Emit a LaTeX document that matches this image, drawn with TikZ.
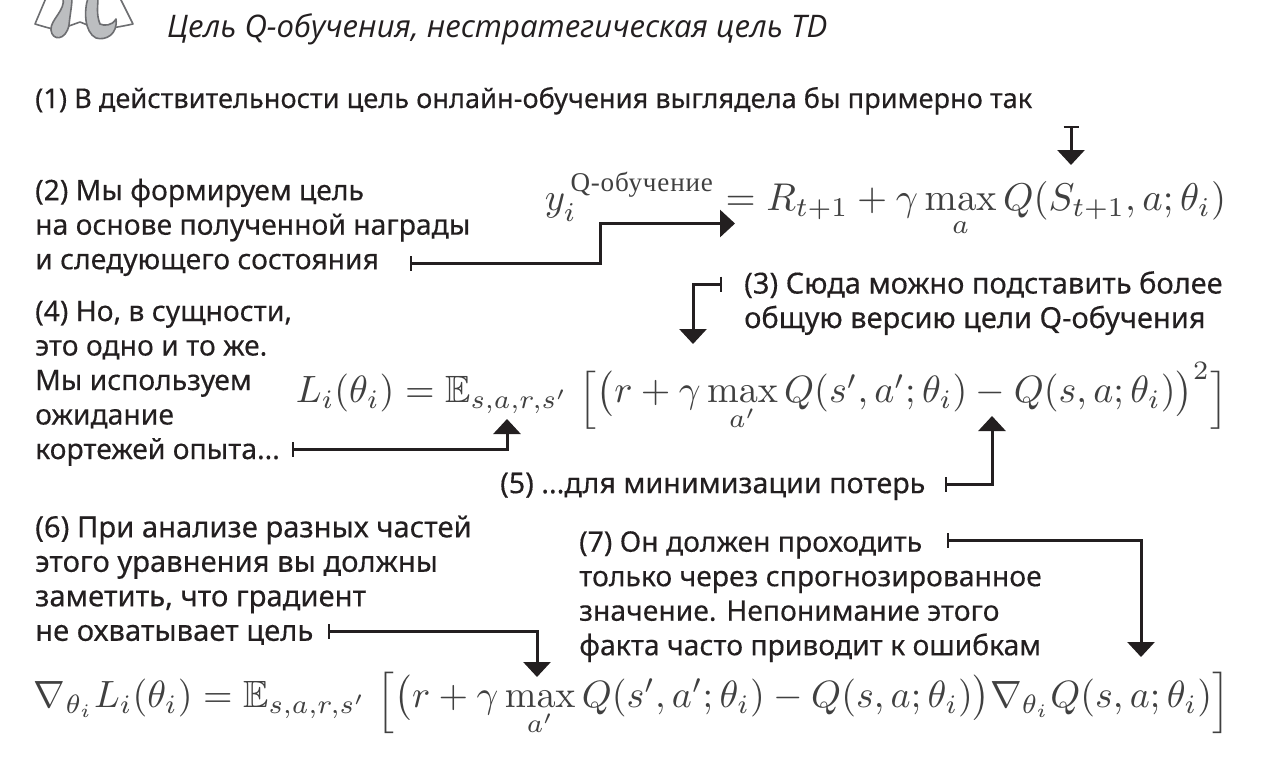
\documentclass[tikz,border=0pt]{standalone}
\usepackage{amsmath,amssymb,graphicx}
\usepackage[no-math]{fontspec}
\setmainfont{Noto Sans}[FakeBold=0.3]
\newfontfamily\titlefont{Open Sans}
\newfontfamily\serifcyr{Liberation Serif}
\usetikzlibrary{arrows.meta}
\newcommand{\qsup}{\text{\raisebox{-1.6pt}{\serifcyr\addfontfeature{LetterSpace=3}Q-обучение}}}
\newcommand{\lbrk}[2]{\mathopen{\raisebox{#2}{\scalebox{1}[#1]{$\Bigl[$}}}}
\newcommand{\rbrk}[2]{\mathclose{\raisebox{#2}{\scalebox{1}[#1]{$\Bigr]$}}}}
\definecolor{ink}{HTML}{231F20}
\definecolor{eqink}{HTML}{404040}
\definecolor{ghostline}{HTML}{6D6E71}
\definecolor{ghostfill}{HTML}{BCBEC0}
\tikzset{
 x=1pt,y=-1pt,
 note/.style={anchor=north west,inner sep=0pt,align=left,text=ink,font=\fontsize{#1}{34.5}\selectfont},
 note/.default=28.5,
 formula/.style={anchor=center,inner sep=0pt,text=eqink},
 barcallout/.style={draw=ink,line width=3pt,{Bar[width=15pt,line width=2.4pt]}-{Triangle[length=15pt,width=27pt]}},
 ghost/.style={draw=ghostline,line width=1.6pt,line join=round},
}
\begin{document}
\begin{tikzpicture}
\useasboundingbox (0,0) rectangle (1268,761);
% mascot
\begin{scope}
\clip (0,0) rectangle (1268,761);
\draw[ghost,fill=white] (46,-2) -- (35,24) .. controls (45,27) and (52,29) .. (58,30) -- (80,22) -- (100,30) .. controls (112,28) and (124,26) .. (133,24) -- (120,-2) -- cycle;
\draw[ghost,fill=ghostfill] (63,-2) .. controls (66,10) and (50,20) .. (51,30) .. controls (52,41) and (66,41) .. (69,25) .. controls (70,15) and (72,5) .. (72,-2) -- cycle;
\draw[ghost,fill=ghostfill] (88,-2) .. controls (84,10) and (84,32) .. (96,38) .. controls (106,41) and (118,34) .. (116,19) .. controls (112,26) and (104,26) .. (100,24) .. controls (96,14) and (98,5) .. (98,-2) -- cycle;
\end{scope}
% title
\node[anchor=base west,inner sep=0pt,text=ink] (title) at (167,37)
 {\resizebox{660pt}{!}{\titlefont\itshape Цель Q-обучения, нестратегическая цель TD}};
% notes
\node[note,anchor=base west] (n1) at (35,108) {\resizebox{997pt}{!}{(1) В действительности цель онлайн-обучения выглядела бы примерно так}};
\node[note=28.3] (n2) at (35,178.5) {(2) Мы формируем цель\\на основе полученной награды\\и следующего состояния};
\node[note=29] (n3) at (744,271) {(3) Сюда можно подставить более\\общую версию цели Q-обучения};
\node[note=28.3] (n4) at (35,300.5) {(4) Но, в сущности,\\это одно и то же.\\Мы используем\\ожидание\\кортежей опыта...};
\node[note=28.7] (n5) at (500,472.5) {(5) ...для минимизации потерь};
\node[note=29.2] (n6) at (35,515.5) {(6) При анализе разных частей\\этого уравнения вы должны\\заметить, что градиент\\не охватывает цель};
\node[note=28.3] (n7) at (579,531) {(7) Он должен проходить\\только через спрогнозированное\\значение. Непонимание этого\\факта часто приводит к ошибкам};
% formulas
\node[formula] (eqa) at (885.5,205) {\resizebox{681pt}{!}{$y_i^{\,\qsup} = R_{t+1}+\gamma\max\limits_{a} Q(S_{t+1},a;\theta_i)$}};
\node[formula] (eqb) at (762,397) {\resizebox{932pt}{!}{$L_i(\theta_i)=\mathbb{E}_{s,a,r,s'}\;\lbrk{0.85}{-1.4pt}\bigl(r+\gamma\max\limits_{a'}Q(s',a';\theta_i)-Q(s,a;\theta_i)\bigr)^{2}\rbrk{0.85}{-1.4pt}$}};
\node[formula] (eqc) at (632,704) {\resizebox{1196pt}{!}{$\nabla_{\theta_i}L_i(\theta_i)=\mathbb{E}_{s,a,r,s'}\;\lbrk{0.9}{-1pt}\bigl(r+\gamma\max\limits_{a'}Q(s',a';\theta_i)-Q(s,a;\theta_i)\bigr)\nabla_{\theta_i}Q(s,a;\theta_i)\rbrk{0.9}{-1pt}$}};
% connector ends
\coordinate (a1s) at (1071,126); \coordinate (a1e) at (1071,165);
\coordinate (a2s) at (410,263);  \coordinate (a2e) at (735,223.5); \coordinate (a2m) at (600,223.5);
\coordinate (a3s) at (722,284);  \coordinate (a3e) at (693,344);
\coordinate (a4s) at (292,449);  \coordinate (a4e) at (507,419);
\coordinate (a5s) at (945,484);  \coordinate (a5e) at (992,416);
\coordinate (a6s) at (328,631);  \coordinate (a6e) at (537,677);
\coordinate (a7s) at (947,540);  \coordinate (a7e) at (1141,657);
\draw[barcallout] (a1s) -- (a1e);
\draw[barcallout] (a2s) -| (a2m) -- (a2e);
\draw[barcallout] (a3s) -| (a3e);
\draw[barcallout] (a4s) -| (a4e);
\draw[barcallout] (a5s) -| (a5e);
\draw[barcallout] (a6s) -| (a6e);
\draw[barcallout] (a7s) -| (a7e);
\end{tikzpicture}
\end{document}
